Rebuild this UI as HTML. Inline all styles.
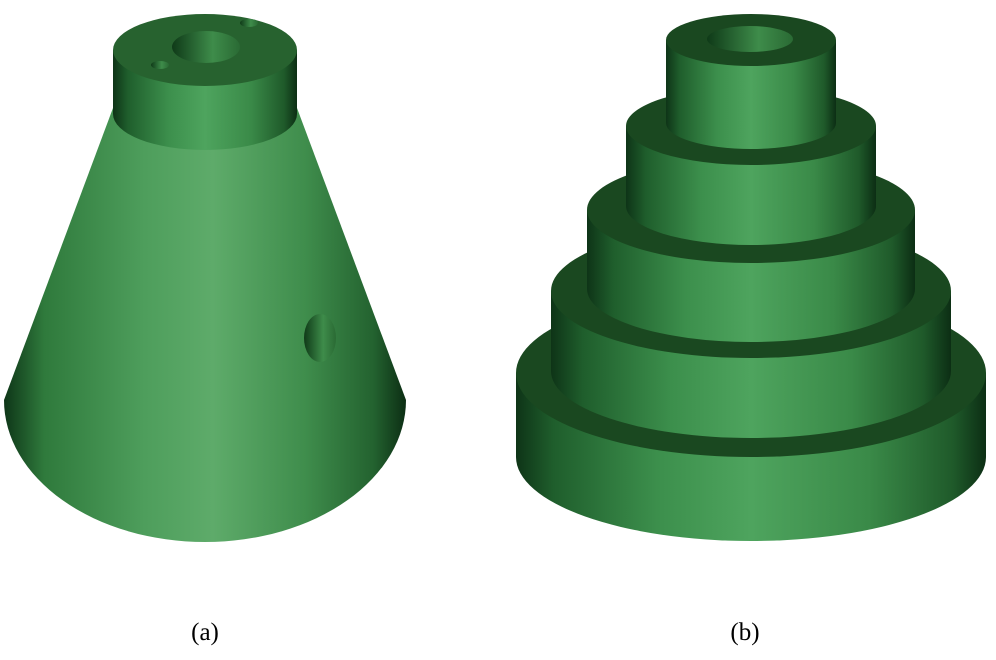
<!DOCTYPE html>
<html><head><meta charset="utf-8"><style>
html,body{margin:0;padding:0;background:#fff;width:996px;height:660px;overflow:hidden}
svg{display:block}
text{font-family:"Liberation Serif",serif;font-size:25px;fill:#000}
</style></head><body>
<svg width="996" height="660" viewBox="0 0 996 660">
<defs>
<linearGradient id="side" x1="0" x2="1" y1="0" y2="0">
<stop offset="0" stop-color="#0e3417"/><stop offset="0.08" stop-color="#1f5e2c"/>
<stop offset="0.3" stop-color="#3c8f4c"/><stop offset="0.5" stop-color="#4ea45e"/>
<stop offset="0.75" stop-color="#3a8a48"/><stop offset="0.93" stop-color="#1f5a2a"/>
<stop offset="1" stop-color="#0c2e14"/></linearGradient>
<linearGradient id="cone" x1="0" x2="1" y1="0" y2="0">
<stop offset="0" stop-color="#0e3618"/><stop offset="0.1" stop-color="#2f7a3c"/>
<stop offset="0.35" stop-color="#4e9e5c"/><stop offset="0.52" stop-color="#5eab6a"/>
<stop offset="0.75" stop-color="#3f8d4c"/><stop offset="0.92" stop-color="#23622f"/>
<stop offset="1" stop-color="#0c2e14"/></linearGradient>
<linearGradient id="hole" x1="0" x2="1"><stop offset="0" stop-color="#0f3a18"/><stop offset="0.6" stop-color="#3e8c4a"/><stop offset="1" stop-color="#2a6a34"/></linearGradient>
</defs>
<g id="left">
<path d="M113,108 L297,108 L406,400 A201,142 0 0 1 4,400 Z" fill="url(#cone)"/>
<path d="M113,50 L113,114 A92,36 0 0 0 297,114 L297,50 Z" fill="url(#side)"/>
<ellipse cx="205" cy="50" rx="92" ry="36" fill="#27622f"/>
<ellipse cx="206" cy="47" rx="34" ry="16" fill="url(#hole)"/>
<ellipse cx="160" cy="65" rx="9" ry="4" fill="url(#hole)"/>
<ellipse cx="249" cy="23" rx="9" ry="4" fill="url(#hole)"/>
<ellipse cx="320" cy="338" rx="16" ry="24" fill="url(#hole)"/>
</g>
<g id="right"></g>
<text x="205" y="640" text-anchor="middle">(a)</text>
<text x="745" y="640" text-anchor="middle">(b)</text>
</svg>
<script>
// tiers bottom to top: rx, ry, topCenterY, height
const tierRx=[235,200,164,125,85];
const tierRy=[84,67,53,39,26];
const tierTop=[373,291,210,126,40];
const tierH=[84,80,79,80,83];
const cx=751;
const g=document.getElementById('right');
const NS='http://www.w3.org/2000/svg';
for(let i=0;i<tierRx.length;i++){
  const rx=tierRx[i],ry=tierRy[i],t=tierTop[i],b=t+tierH[i];
  const p=document.createElementNS(NS,'path');
  p.setAttribute('d',`M${cx-rx},${t} L${cx-rx},${b} A${rx},${ry} 0 0 0 ${cx+rx},${b} L${cx+rx},${t} Z`);
  p.setAttribute('fill','url(#side)');
  
  
  g.appendChild(p);
  const e=document.createElementNS(NS,'ellipse');
  e.setAttribute('cx',cx);e.setAttribute('cy',t);e.setAttribute('rx',rx);e.setAttribute('ry',ry);
  e.setAttribute('fill','#1a4820');
  
  
  g.appendChild(e);
}
const h=document.createElementNS(NS,'ellipse');
h.setAttribute('cx',750);h.setAttribute('cy',39);h.setAttribute('rx',43);h.setAttribute('ry',13);
h.setAttribute('fill','url(#hole)');


g.appendChild(h);
</script>
</body></html>
